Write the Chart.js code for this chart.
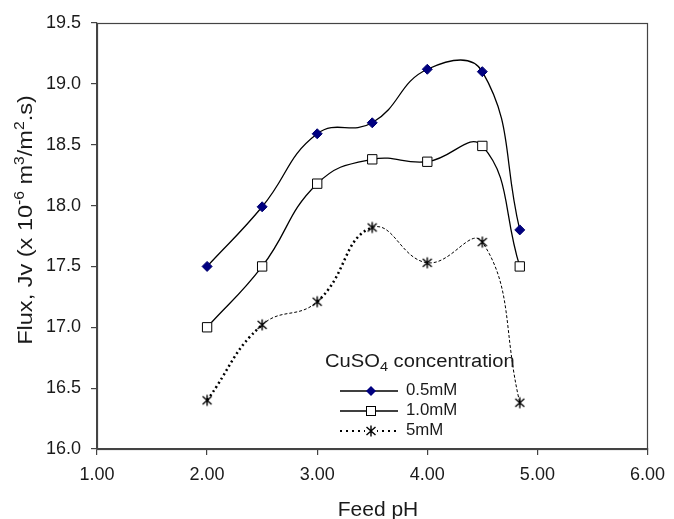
<!DOCTYPE html>
<html><head><meta charset="utf-8">
<script src="https://cdn.jsdelivr.net/npm/chart.js@4/dist/chart.umd.min.js"></script>
<style>html,body{margin:0;padding:0;background:#fff}#wrap{width:674px;height:519px}</style>
</head><body><div id="wrap"><canvas id="c" width="674" height="519"></canvas></div>
<script>
const phValues = [2.0, 2.5, 3.0, 3.5, 4.0, 4.5, 4.84];
const flux05 = [17.50, 17.99, 18.59, 18.68, 19.12, 19.10, 17.80];
const flux10 = [17.00, 17.50, 18.18, 18.38, 18.36, 18.49, 17.50];
const flux5 = [16.40, 17.02, 17.21, 17.82, 17.53, 17.70, 16.38];
const seriesNames = ['0.5mM', '1.0mM', '5mM'];
const legendTitle = [['CuSO', 0], ['4', -1], [' concentration', 0]];
const yTitle = [['Flux, Jv (x 10', 0], ['-6', 1], [' m', 0], ['3', 1], ['/m', 0], ['2', 1], ['.s)', 0]];
const xTitle = 'Feed pH';
const FONT = '"Liberation Sans", Arial, sans-serif';

function starImg(){
  const c = document.createElement('canvas'); c.width = 14; c.height = 14;
  const g = c.getContext('2d'); g.strokeStyle = '#000'; g.lineWidth = 1.4;
  g.beginPath();
  g.moveTo(7,1.5); g.lineTo(7,12.5);
  g.moveTo(2.5,3); g.lineTo(11.5,11);
  g.moveTo(11.5,3); g.lineTo(2.5,11);
  g.stroke(); return c;
}
const star = starImg();
const pts = arr => arr.map((v,i)=>({x: phValues[i], y: v}));

// draw rich text (parts: [text, mode] mode 0 normal, 1 sup, -1 sub) starting at 0,0 baseline
function richWidth(ctx, parts, size, small){
  let w = 0;
  parts.forEach(([t,m]) => { ctx.font = (m ? small : size) + 'px ' + FONT; w += ctx.measureText(t).width; });
  return w;
}
function drawRich(ctx, parts, size, small){
  let x = 0;
  parts.forEach(([t,m]) => {
    ctx.font = (m ? small : size) + 'px ' + FONT;
    const dy = m === 1 ? -size*0.38 : (m === -1 ? size*0.2 : 0);
    ctx.fillText(t, x, dy); x += ctx.measureText(t).width;
  });
}

const frameAndLegend = {
  id: 'frameAndLegend',
  afterDraw(chart){
    const {ctx, chartArea: a} = chart;
    ctx.save();
    ctx.strokeStyle = '#444'; ctx.lineWidth = 1.2;
    ctx.strokeRect(Math.round(a.left)+0.5, Math.round(a.top)+0.5, Math.round(a.right-a.left), Math.round(a.bottom-a.top));
    ctx.fillStyle = '#1a1a1a'; ctx.textBaseline = 'alphabetic'; ctx.textAlign = 'left';

    // legend title
    ctx.save(); ctx.translate(325, 367); ctx.scale(1.12, 1);
    drawRich(ctx, legendTitle, 18, 13); ctx.restore();

    // x title
    ctx.font = '20px ' + FONT;
    const xw = ctx.measureText(xTitle).width * 1.05;
    ctx.save(); ctx.translate(378 - xw/2, 516); ctx.scale(1.05, 1); ctx.fillText(xTitle, 0, 0); ctx.restore();

    // y title
    const yw = richWidth(ctx, yTitle, 21, 14) * 1.12;
    ctx.save(); ctx.translate(32, 220 + yw/2); ctx.rotate(-Math.PI/2); ctx.scale(1.12, 1);
    drawRich(ctx, yTitle, 21, 14); ctx.restore();

    // legend items
    const rows = [391, 411, 431];
    ctx.textBaseline = 'middle';
    rows.forEach((ry, i) => {
      ctx.strokeStyle = '#000';
      if (i < 2) { ctx.setLineDash([]); ctx.lineWidth = 1.3; }
      else { ctx.setLineDash([2,4]); ctx.lineWidth = 2; }
      ctx.beginPath(); ctx.moveTo(340, ry); ctx.lineTo(398, ry); ctx.stroke();
      ctx.setLineDash([]);
      const mx = 371;
      if (i === 0) {
        ctx.fillStyle = '#000080'; ctx.beginPath();
        ctx.moveTo(mx, ry-5); ctx.lineTo(mx+5, ry); ctx.lineTo(mx, ry+5); ctx.lineTo(mx-5, ry); ctx.closePath(); ctx.fill();
      } else if (i === 1) {
        ctx.fillStyle = '#fff'; ctx.fillRect(mx-4.5, ry-4.5, 9, 9);
        ctx.lineWidth = 1; ctx.strokeRect(mx-4.5, ry-4.5, 9, 9);
      } else {
        ctx.fillStyle = '#fff'; ctx.fillRect(mx-6, ry-6, 12, 12);
        ctx.drawImage(star, mx-7, ry-7);
      }
      ctx.fillStyle = '#1a1a1a';
      ctx.save(); ctx.translate(406, ry); ctx.scale(1.05, 1);
      ctx.font = '16px ' + FONT; ctx.fillText(seriesNames[i], 0, 0); ctx.restore();
    });
    ctx.restore();
  }
};

new Chart(document.getElementById('c'), {
  type: 'line',
  data: {
    datasets: [
      { label: seriesNames[0], data: pts(flux05), borderColor: '#000', borderWidth: 1.3,
        pointStyle: 'rectRot', pointRadius: 5, pointBackgroundColor: '#000080', pointBorderColor: '#000070', pointBorderWidth: 1,
        tension: 0.45, fill: false },
      { label: seriesNames[1], data: pts(flux10), borderColor: '#000', borderWidth: 1.3,
        pointStyle: 'rect', pointRadius: 6.6, pointBackgroundColor: '#fff', pointBorderColor: '#000', pointBorderWidth: 1,
        tension: 0.45, fill: false },
      { label: seriesNames[2], data: pts(flux5), borderColor: '#000', borderWidth: 1,
        pointStyle: star, pointRadius: 6, tension: 0.45, fill: false,
        segment: {
          borderDash: c => (c.p0DataIndex === 0 || c.p0DataIndex === 2) ? [2,3] : [3,2],
          borderWidth: c => (c.p0DataIndex === 0 || c.p0DataIndex === 2) ? 2.5 : 1
        } }
    ]
  },
  options: {
    responsive: false, animation: false, devicePixelRatio: 1,
    layout: { padding: { left: 0, right: 23, top: 23, bottom: 0 } },
    plugins: { legend: { display: false }, tooltip: { enabled: false } },
    scales: {
      x: { type: 'linear', min: 1, max: 6,
        ticks: { stepSize: 1, color: '#1a1a1a', font: { family: FONT, size: 18 }, padding: 9, maxRotation: 0, callback: v => v.toFixed(2) },
        grid: { display: true, drawOnChartArea: false, drawTicks: true, tickLength: 6, color: '#444', lineWidth: 1.2 },
        border: { display: true, color: '#444', width: 1.2 },
        title: { display: false },
        afterFit: s => { s.height = 70; } },
      y: { type: 'linear', min: 16, max: 19.5,
        ticks: { stepSize: 0.5, color: '#1a1a1a', font: { family: FONT, size: 18 }, padding: 10, callback: v => v.toFixed(1) },
        grid: { display: true, drawOnChartArea: false, drawTicks: true, tickLength: 6, color: '#444', lineWidth: 1.2 },
        border: { display: true, color: '#444', width: 1.2 },
        title: { display: false },
        afterFit: s => { s.width = 97; } }
    }
  },
  plugins: [frameAndLegend]
});
</script></body></html>
